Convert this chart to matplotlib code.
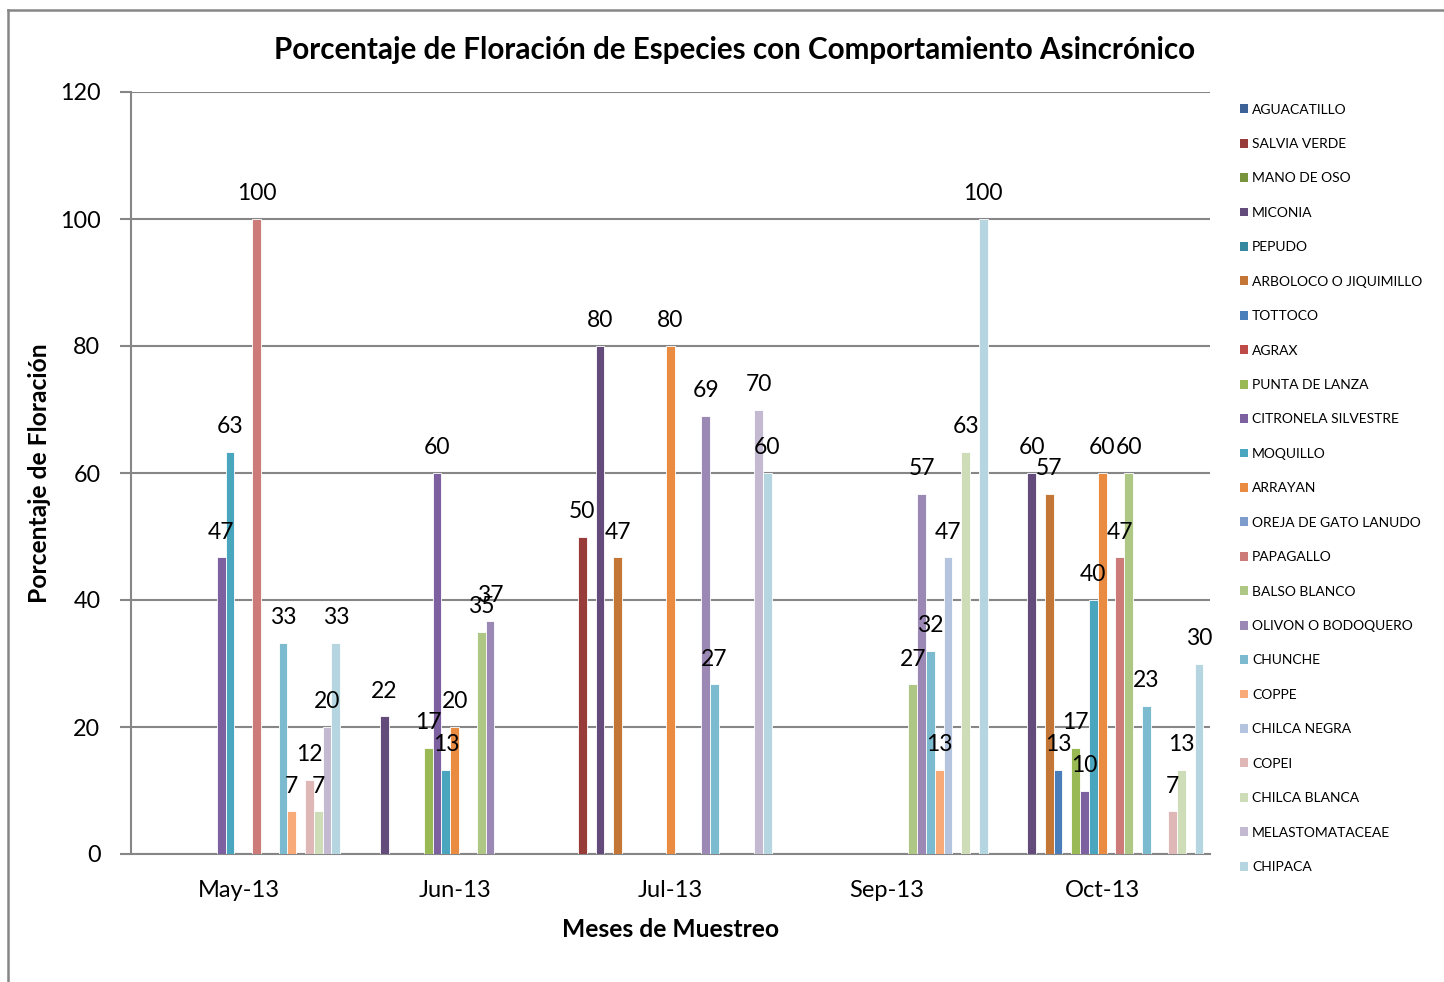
import numpy as np
import matplotlib
matplotlib.use("Agg")
import matplotlib.pyplot as plt
from matplotlib.lines import Line2D
from matplotlib.patches import Patch

plt.rcParams['font.family'] = ['Lato', 'DejaVu Sans']

months = ["May-13", "Jun-13", "Jul-13", "Sep-13", "Oct-13"]
species = ["AGUACATILLO", "SALVIA VERDE", "MANO DE OSO", "MICONIA", "PEPUDO",
           "ARBOLOCO O JIQUIMILLO", "TOTTOCO", "AGRAX", "PUNTA DE LANZA",
           "CITRONELA SILVESTRE", "MOQUILLO", "ARRAYAN", "OREJA DE GATO LANUDO",
           "PAPAGALLO", "BALSO BLANCO", "OLIVON O BODOQUERO", "CHUNCHE", "COPPE",
           "CHILCA NEGRA", "COPEI", "CHILCA BLANCA", "MELASTOMATACEAE", "CHIPACA"]
n = np.nan
aguacatillo     = [n, n, n, n, n]
salvia_verde    = [n, n, 50.0, n, n]
mano_de_oso     = [n, n, n, n, n]
miconia         = [n, 21.7, 80.0, n, 60.0]
pepudo          = [n, n, n, n, n]
arboloco        = [n, n, 46.7, n, 56.7]
tottoco         = [n, n, n, n, 13.3]
agrax           = [n, n, n, n, n]
punta_de_lanza  = [n, 16.7, n, n, 16.7]
citronela       = [46.7, 60.0, n, n, 10.0]
moquillo        = [63.3, 13.3, n, n, 40.0]
arrayan         = [n, 20.0, 80.0, n, 60.0]
oreja_de_gato   = [n, n, n, n, n]
papagallo       = [100.0, n, n, n, 46.7]
balso_blanco    = [n, 35.0, n, 26.7, 60.0]
olivon          = [n, 36.7, 69.0, 56.7, n]
chunche         = [33.3, n, 26.7, 32.0, 23.3]
coppe           = [6.7, n, n, 13.3, n]
chilca_negra    = [n, n, n, 46.7, n]
copei           = [11.7, n, n, n, 6.7]
chilca_blanca   = [6.7, n, n, 63.3, 13.3]
melastomataceae = [20.0, n, 70.0, n, n]
chipaca         = [33.3, n, 60.0, 100.0, 30.0]

series = [aguacatillo, salvia_verde, mano_de_oso, miconia, pepudo, arboloco,
          tottoco, agrax, punta_de_lanza, citronela, moquillo, arrayan,
          oreja_de_gato, papagallo, balso_blanco, olivon, chunche, coppe,
          chilca_negra, copei, chilca_blanca, melastomataceae, chipaca]

colors = ["#3D6298", "#983C3A", "#78953E", "#634C7C", "#36889F", "#C37636",
          "#4A7EBB", "#BE4B48", "#98B954", "#7D60A0", "#4AA5BF", "#E98B40",
          "#7E9CCB", "#CD7B79", "#AEC785", "#9C88B5", "#7CBAD0", "#F8AB79",
          "#B5C4DE", "#DFB7B6", "#CEDCB8", "#C3BAD2", "#B5D5E0"]

fig = plt.figure(figsize=(14.44, 9.82), dpi=100)
W, H = 1444, 982
ax = fig.add_axes([131 / W, 1 - 854 / H, (1210 - 131) / W, (854 - 92) / H])

nser = len(series)
slot = 1.0 / (nser + 1.5)
x = np.arange(len(months))
grid_c = "#868686"

handles = []
for i, (vals, name, c) in enumerate(zip(series, species, colors)):
    pos = x - nser * slot / 2 + slot * (i + 0.5)
    v = np.array(vals, dtype=float)
    m = ~np.isnan(v)
    if m.any():
        ax.bar(pos[m], v[m], width=slot, color=c, edgecolor="white",
               linewidth=0.6, zorder=3)
    handles.append(Patch(facecolor=c, edgecolor="none", label=name))
    for p, val in zip(pos[m], v[m]):
        ax.annotate(f"{val:.0f}", (p, val), xytext=(0, 10.5),
                    textcoords="offset points", ha="center", va="bottom",
                    fontsize=16.5, color="black", zorder=5)

ax.set_xlim(-0.5, len(months) - 0.5)
ax.set_ylim(0, 120)
ax.set_yticks(np.arange(0, 121, 20))
ax.yaxis.grid(True, color=grid_c, linewidth=1.5, zorder=0)
ax.set_axisbelow(True)
ax.set_xticks(x)
ax.set_xticklabels(months, fontsize=17)
ax.tick_params(axis="x", length=0, pad=19)
ax.tick_params(axis="y", length=8, width=1.5, color=grid_c, labelsize=16.8, pad=14)
for s in ["top", "right"]:
    ax.spines[s].set_visible(False)
for s in ["left", "bottom"]:
    ax.spines[s].set_color(grid_c)
    ax.spines[s].set_linewidth(1.5)

ax.set_xlabel("Meses de Muestreo", fontsize=17.7, fontweight="bold", labelpad=12)
ax.set_ylabel("Porcentaje de Floración", fontsize=17.7, fontweight="bold", labelpad=6)
fig.text(735 / W, 1 - 50 / H, "Porcentaje de Floración de Especies con Comportamiento Asincrónico",
         ha="center", va="center", fontsize=21.3, fontweight="bold")

leg = fig.legend(handles=handles, loc="upper left", bbox_to_anchor=(1234 / W, 1 - 98 / H),
                 frameon=False, fontsize=10, handlelength=0.6, handleheight=0.6,
                 handletextpad=0.3, labelspacing=1.615, borderaxespad=0)

# chart border
fig.add_artist(Line2D([8 / W, 8 / W], [0, 1 - 10 / H], transform=fig.transFigure,
                      color=grid_c, linewidth=1.8))
fig.add_artist(Line2D([8 / W, 1], [1 - 10 / H, 1 - 10 / H], transform=fig.transFigure,
                      color=grid_c, linewidth=1.8))

fig.savefig("out.png", dpi=100, facecolor="white")
